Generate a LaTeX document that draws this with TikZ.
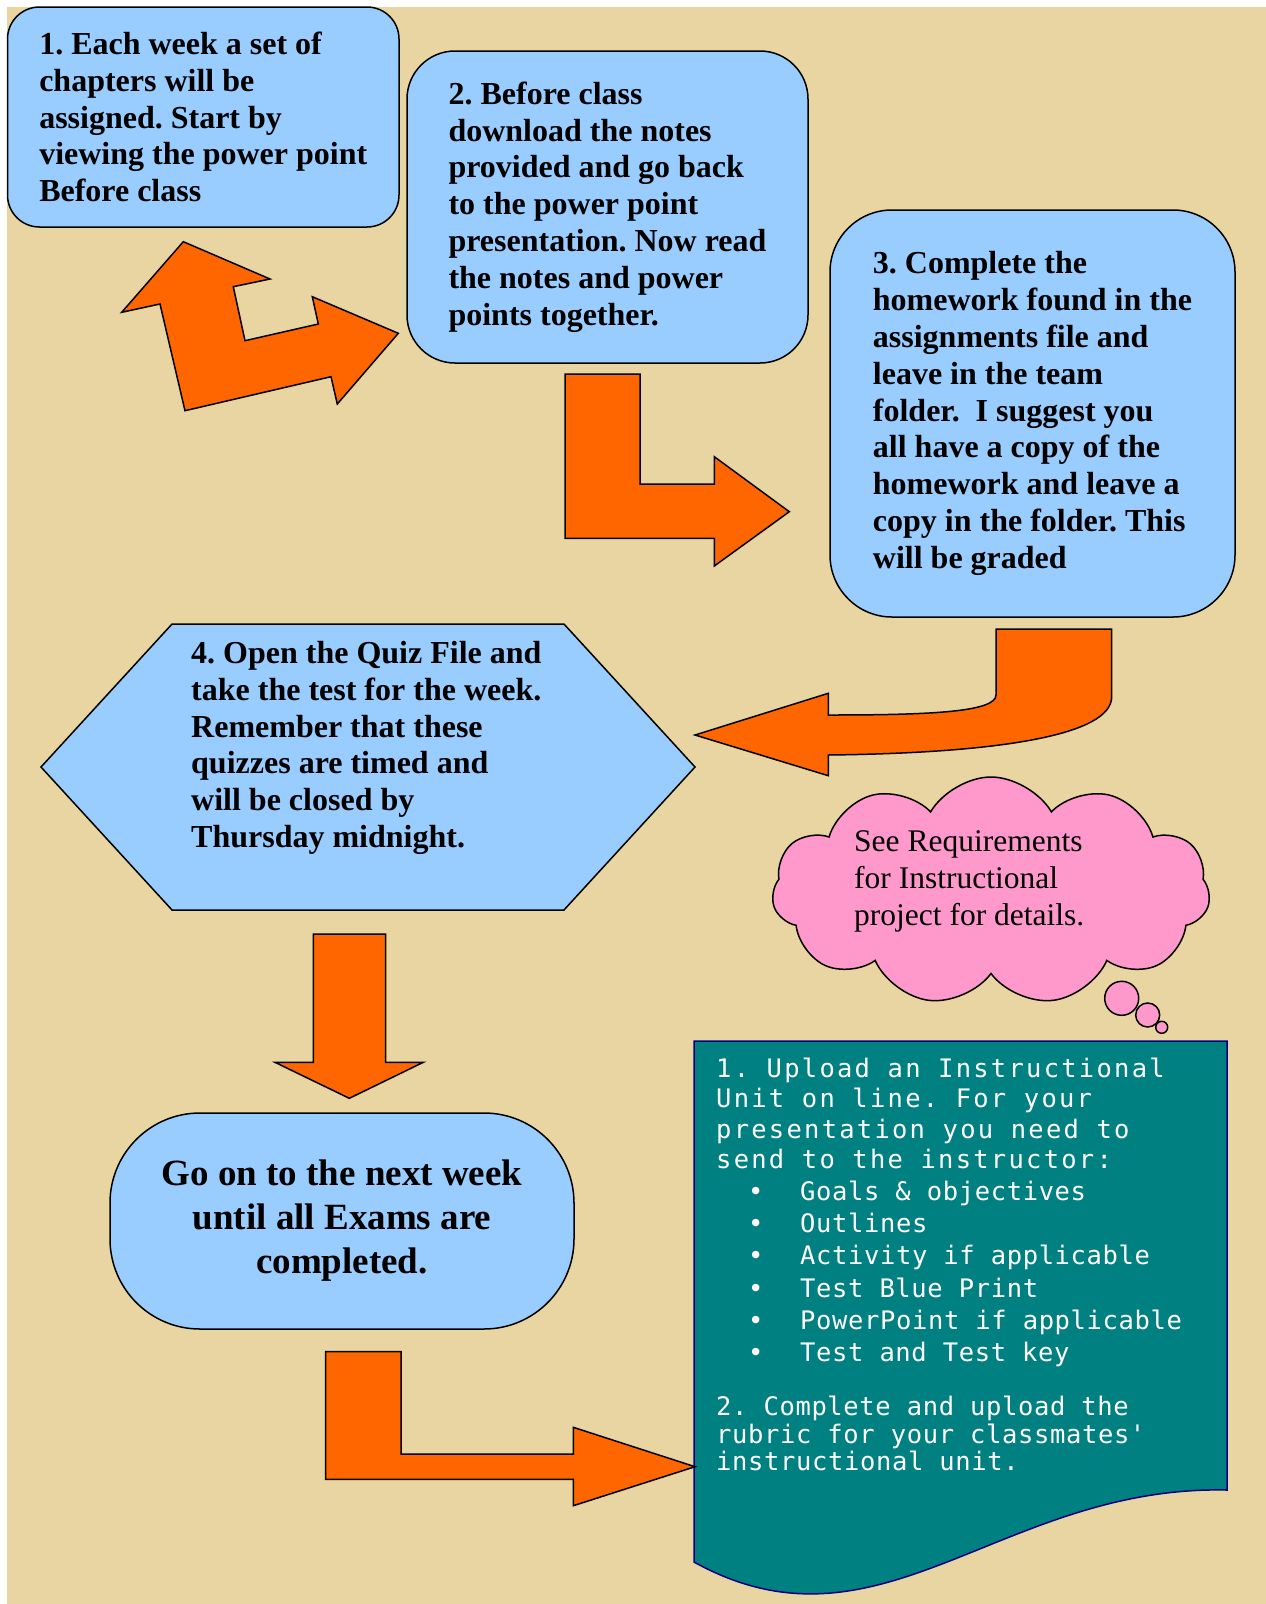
\documentclass[tikz,border=0pt]{standalone}
\usepackage{fontspec}
\setmainfont{Liberation Serif}
\newfontfamily\unitfont[LetterSpace=8.8]{DejaVu Sans Mono}
\newfontfamily\itemfont[LetterSpace=2.5]{DejaVu Sans Mono}
\usepackage{xcolor}
\usepackage{tikz}
\usetikzlibrary{shapes.geometric, shapes.symbols, positioning}
\frenchspacing
\definecolor{parchment}{HTML}{E9D5A1}
\definecolor{skyblue}{HTML}{99CCFF}
\definecolor{arroworange}{HTML}{FF6600}
\definecolor{cloudpink}{HTML}{FF99CC}
\definecolor{unitteal}{HTML}{008080}
\definecolor{unitnavy}{HTML}{000080}
\tikzstyle{stepbox} = [rectangle, draw=black, line width=1.5pt, fill=skyblue, align=left, inner sep=0pt, font=\fontsize{32}{36.8}\selectfont\bfseries]
\tikzstyle{quizbox} = [signal, signal to=west and east, signal pointer angle=95, draw=black, line width=1.5pt, fill=skyblue, minimum width=654pt, minimum height=286pt, inner sep=0pt]
\tikzstyle{steptext} = [align=left, inner sep=0pt, anchor=north west, font=\fontsize{32}{36.8}\selectfont\bfseries]
\tikzstyle{notecloud} = [cloud, cloud puffs=11, cloud puff arc=120, draw=black, line width=1.5pt, fill=cloudpink, minimum width=438pt, minimum height=228pt, inner sep=0pt]
\tikzstyle{notetext} = [align=left, inner sep=0pt, anchor=north west, font=\fontsize{31.5}{37}\selectfont]
\tikzstyle{blockarrow} = [draw=black, line width=1.5pt, fill=arroworange, line join=miter]
\tikzstyle{unitdoc} = [draw=unitnavy, line width=1.5pt, fill=unitteal]
\tikzstyle{unittext} = [align=left, inner sep=0pt, anchor=north west, text=white, font=\fontsize{25.5}{30.2}\unitfont]

\begin{document}
\begin{tikzpicture}[x=1pt, y=-1pt]
		\useasboundingbox (0,0) rectangle (1266,1604);
		\fill[white] (0,0) rectangle (1266,1604);
		\fill[parchment] (7,7) rectangle (1266,1604);

		\node (week)[stepbox, minimum width=391.5pt, minimum height=220pt, rounded corners=32pt] at (203.25,117) {1. Each week a set of\\chapters will be\\assigned. Start by\\viewing the power point\\Before class};
		\node (notes)[stepbox, minimum width=401pt, minimum height=312pt, rounded corners=48pt] at (607.5,207) {2. Before class\\download the notes\\provided and go back\\to the power point\\presentation. Now read\\the notes and power\\points together.};
		\node (homework)[stepbox, minimum width=405pt, minimum height=407pt, rounded corners=62pt] at (1032.5,413.5) {3. Complete the\\homework found in the\\assignments file and\\leave in the team\\folder.\ \ I suggest you\\all have a copy of the\\homework and leave a\\copy in the folder. This\\will be graded};
		\node (quiz)[quizbox] at (368,767) {};
		\node (quiztext)[steptext] at (191,641) {4. Open the Quiz File and\\take the test for the week.\\Remember that these\\quizzes are timed and\\will be closed by\\Thursday midnight.};
		\node (nextweek)[stepbox, align=center, minimum width=464pt, minimum height=216pt, rounded corners=90pt, font=\fontsize{37}{44}\selectfont\bfseries] at (342,1221) {Go on to the next week\\until all Exams are\\completed.};

		\node (note)[notecloud] at (991,891) {};
		\node (notetext)[notetext] at (854,830) {See Requirements\\for Instructional\\project for details.};
		\draw[line width=1.5pt, fill=cloudpink] (1121.7,998.3) circle [radius=17];
		\draw[line width=1.5pt, fill=cloudpink] (1147.7,1015) circle [radius=12];
		\draw[line width=1.5pt, fill=cloudpink] (1161.7,1027.3) circle [radius=6];

		\draw[unitdoc] (694,1041) -- (1227,1041) -- (1227,1490) .. controls (1000,1485) and (880,1665) .. (694,1562) -- cycle;
		\node (unittext)[unittext] at (716,1058) {1. Upload an Instructional\\Unit on line. For your\\presentation you need to\\send to the instructor:\\[2pt]
			\itemfont\hspace*{32pt}\makebox[52pt][l]{•}Goals \& objectives\\[2pt]
			\itemfont\hspace*{32pt}\makebox[52pt][l]{•}Outlines\\[2pt]
			\itemfont\hspace*{32pt}\makebox[52pt][l]{•}Activity if applicable\\[2pt]
			\itemfont\hspace*{32pt}\makebox[52pt][l]{•}Test Blue Print\\[2pt]
			\itemfont\hspace*{32pt}\makebox[52pt][l]{•}PowerPoint if applicable\\[2pt]
			\itemfont\hspace*{32pt}\makebox[52pt][l]{•}Test and Test key\\[23.8pt]
			\itemfont 2. Complete and upload the\\[-2.6pt]\itemfont rubric for your classmates'\\[-2.6pt]\itemfont instructional unit.};

		\draw[blockarrow] (183.3,241.7) -- (270,279) -- (233.3,286.7) -- (245,340.7) -- (318.3,324) -- (312.3,296.7) -- (398.3,333.3) -- (337.3,404) -- (331,376.7) -- (185,410.7) -- (160,304) -- (121.7,312.3) -- cycle;
		\draw[blockarrow] (565,374) -- (640,374) -- (640,484) -- (714.3,484) -- (714.3,456.7) -- (789.3,511.7) -- (714.3,566) -- (714.3,538.3) -- (565,538.3) -- cycle;
		\draw[blockarrow] (996,629) -- (1111.7,629) -- (1111.7,696.7) .. controls (1111.7,735) and (1000,753) .. (828.3,755) -- (828.3,775.7) -- (695,735) -- (828.3,693.3) -- (828.3,715) .. controls (930,715) and (996,712) .. (996,695) -- cycle;
		\draw[blockarrow] (313.3,934) -- (385.7,934) -- (385.7,1062.3) -- (423.3,1062.3) -- (349.3,1098.3) -- (275,1062.3) -- (313.3,1062.3) -- cycle;
		\draw[blockarrow] (325.7,1351.7) -- (401,1351.7) -- (401,1454) -- (573.3,1454) -- (573.3,1427.3) -- (695,1466.7) -- (573.3,1505.7) -- (573.3,1479.3) -- (325.7,1479.3) -- cycle;
	\end{tikzpicture}
\end{document}
